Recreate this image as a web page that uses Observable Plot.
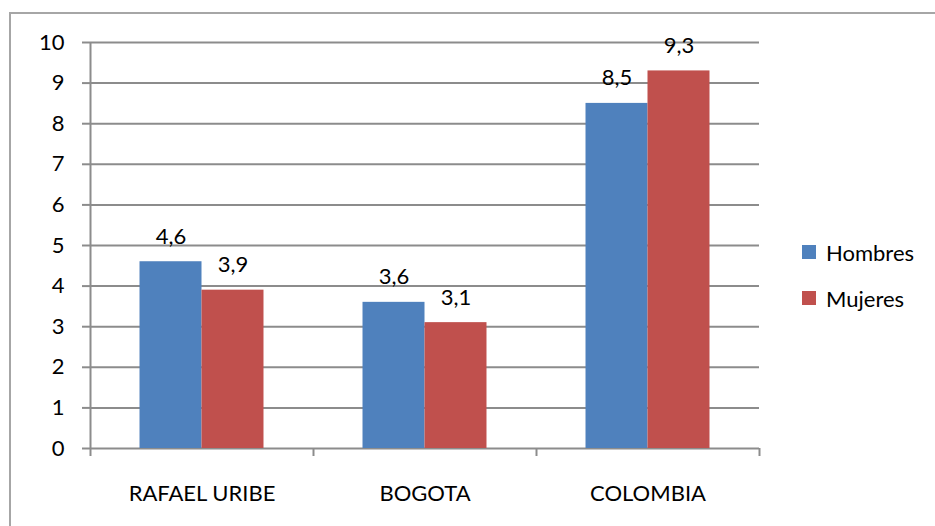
<!DOCTYPE html>
<html>
<head>
<meta charset="utf-8">
<script src="https://cdn.jsdelivr.net/npm/d3@7"></script>
<script src="https://cdn.jsdelivr.net/npm/@observablehq/plot@0.6"></script>
<style>
  html, body { margin: 0; padding: 0; background: #fff; }
  #wrap { position: relative; width: 935px; height: 526px; overflow: hidden; font-family: Lato, "Open Sans", sans-serif; }
  #border { position: absolute; left: 9px; top: 12px; width: 1000px; height: 1000px; border-top: 2px solid #a6a6a6; border-left: 2px solid #a6a6a6; }
  #chart { position: absolute; left: 0; top: 0; }
  #chart svg [aria-label^="x-axis"] line, #chart svg [aria-label^="x-axis"] path,
  #chart svg [aria-label^="y-axis"] line, #chart svg [aria-label^="y-axis"] path { stroke: #8c8c8c; stroke-width: 2px; }
  #legend { position: absolute; left: 802px; top: 229px; font-size: 22px; color: #000; }
  .item { display: flex; align-items: center; height: 46px; }
  .sw { width: 14px; height: 14px; margin-right: 10px; }
</style>
</head>
<body>
<div id="wrap">
  <div id="border"></div>
  <div id="chart"></div>
  <div id="legend"></div>
</div>
<script>
const categories = ["RAFAEL URIBE", "BOGOTA", "COLOMBIA"];
const series = ["Hombres", "Mujeres"];
const hombres = [4.6, 3.6, 8.5];
const mujeres = [3.9, 3.1, 9.3];
const yTicks = [0, 1, 2, 3, 4, 5, 6, 7, 8, 9, 10];
const colors = ["#4F81BD", "#C0504D"];

// group layout: each category occupies one unit; bars share the middle of it
const barW = 0.278;
const values = [hombres, mujeres];
const rows = [];
categories.forEach((cat, i) => {
  series.forEach((s, j) => {
    const x1 = i + 0.5 + (j - 1) * barW;
    rows.push({cat, serie: s, value: values[j][i], x1, x2: x1 + barW, xm: x1 + barW / 2});
  });
});
const fmt = v => v.toFixed(1).replace(".", ",");

const chart = Plot.plot({
  width: 935,
  height: 526,
  marginLeft: 90,
  marginRight: 176,
  marginTop: 42,
  marginBottom: 78,
  style: {fontFamily: "Lato, 'Open Sans', sans-serif", fontSize: "22px", color: "#000", background: "transparent", overflow: "visible"},
  x: {domain: [0, categories.length], ticks: d3.range(0, categories.length + 1), tickSize: 8, tickFormat: () => "", label: null},
  y: {domain: [0, 10], ticks: yTicks, tickSize: 8, tickPadding: 18, tickFormat: d => String(d), label: null},
  color: {domain: series, range: colors},
  marks: [
    Plot.ruleY(yTicks, {stroke: "#8c8c8c", strokeWidth: 2}),
    Plot.ruleX([0], {stroke: "#8c8c8c", strokeWidth: 2}),
    Plot.rectY(rows, {x1: "x1", x2: "x2", y1: 0, y2: "value", fill: "serie"}),
    Plot.text(rows, {x: "xm", y: "value", text: d => fmt(d.value), dy: -25, fill: "#000"}),
    Plot.text(categories, {x: (d, i) => i + 0.5, frameAnchor: "bottom", dy: 52, text: d => d, fill: "#000"})
  ]
});
document.getElementById("chart").appendChild(chart);

const legend = document.getElementById("legend");
series.forEach((s, j) => {
  const item = document.createElement("div");
  item.className = "item";
  const sw = document.createElement("div");
  sw.className = "sw";
  sw.style.background = colors[j];
  const t = document.createElement("span");
  t.textContent = s;
  item.appendChild(sw);
  item.appendChild(t);
  legend.appendChild(item);
});
</script>
</body>
</html>
